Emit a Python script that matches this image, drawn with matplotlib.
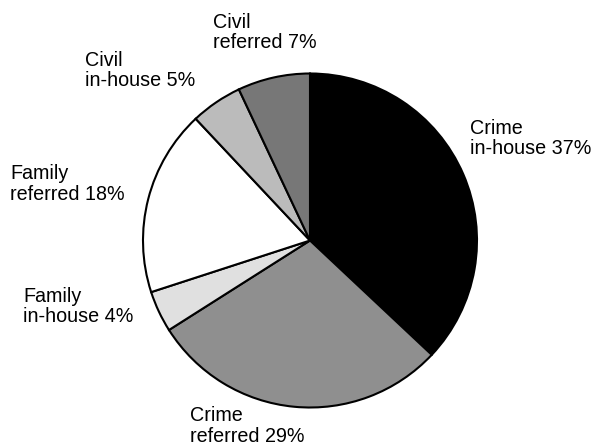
import matplotlib.pyplot as plt

# share of cases by type
labels = ['Crime\nin-house 37%', 'Crime\nreferred 29%', 'Family\nin-house 4%',
          'Family\nreferred 18%', 'Civil\nin-house 5%', 'Civil\nreferred 7%']
shares = [37, 29, 4, 18, 5, 7]
colors = ['#000000', '#8f8f8f', '#e0e0e0', '#ffffff', '#bbbbbb', '#777777']

# label corners in pixels (left, top) measured on the 594x445 canvas
label_left = [470, 190, 23, 10, 85, 213]
label_top = [119, 406, 287, 164, 51, 13]

W, H = 594, 445
cx, cy, r = 310, 240.5, 167

plt.rcParams['font.family'] = ['Liberation Sans', 'DejaVu Sans']

fig = plt.figure(figsize=(W / 100, H / 100), dpi=100)
ax = fig.add_axes([0, 0, 1, 1])

ax.pie(shares, colors=colors, startangle=90, counterclock=False,
       wedgeprops=dict(edgecolor='black', linewidth=1.5))

ax.set_xlim(-cx / r, (W - cx) / r)
ax.set_ylim(-(H - cy) / r, cy / r)

for lab, lx, ty in zip(labels, label_left, label_top):
    ax.text((lx - cx) / r, (cy - ty) / r, lab, ha='left', va='top',
            fontsize=14.2, linespacing=1.1)

fig.savefig('out.png', dpi=100)
